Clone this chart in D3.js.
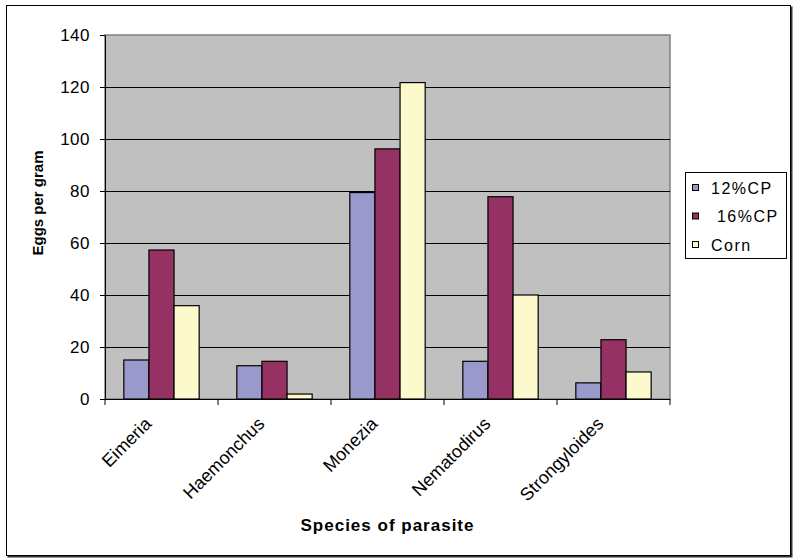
<!DOCTYPE html>
<html>
<head>
<meta charset="utf-8">
<script src="https://cdn.jsdelivr.net/npm/d3@7"></script>
<style>
  body { margin: 0; background: #fff; }
  text { font-family: Arial, "Liberation Sans", sans-serif; fill: #000; }
</style>
</head>
<body>
<div id="chart-div"></div>
<script>
// data
const species = ["Eimeria", "Haemonchus", "Monezia", "Nematodirus", "Strongyloides"];
const seriesNames = ["12%CP", "16%CP", "Corn"];
const cp12 = [15, 12.8, 79.4, 14.5, 6.2];
const cp16 = [57.3, 14.5, 96.2, 77.8, 22.8];
const corn = [35.9, 1.9, 121.7, 40, 10.4];
const yTicks = [0, 20, 40, 60, 80, 100, 120, 140];

const CHART_WIDTH = 796;
const CHART_HEIGHT = 558;
const PLOT = { left: 105, right: 670, top: 35, bottom: 399 };
const COLORS = ["#9999cc", "#963163", "#fcf9cc"];

var svg, xScale, xInner, yScale;

setup();

function setup() {
  svg = d3.select("#chart-div")
    .append("svg")
    .attr("width", CHART_WIDTH)
    .attr("height", CHART_HEIGHT);

  // outer frame (with a small shadow on right/bottom)
  svg.append("rect")
    .attr("x", 7.5).attr("y", 6.5)
    .attr("width", 785).attr("height", 551)
    .attr("fill", "#333");
  svg.append("rect")
    .attr("x", 6.5).attr("y", 5.5)
    .attr("width", 784).attr("height", 550)
    .attr("fill", "#fff")
    .attr("stroke", "#000")
    .attr("stroke-width", 1);

  xScale = d3.scaleBand()
    .domain(species)
    .range([PLOT.left, PLOT.right])
    .padding(0);

  xInner = d3.scaleBand()
    .domain(seriesNames)
    .range([0, xScale.bandwidth()])
    .paddingInner(0)
    .paddingOuter(0.75);

  yScale = d3.scaleLinear()
    .domain([0, 140])
    .range([PLOT.bottom, PLOT.top]);

  drawPlot();
  drawLegend();
}

function drawPlot() {
  // plot background
  svg.append("rect")
    .attr("x", PLOT.left).attr("y", PLOT.top)
    .attr("width", PLOT.right - PLOT.left)
    .attr("height", PLOT.bottom - PLOT.top)
    .attr("fill", "#c0c0c0")
    .attr("stroke", "#808080")
    .attr("stroke-width", 1.5);

  // gridlines
  svg.append("g")
    .selectAll("line")
    .data(yTicks.filter(d => d > 0 && d < 140))
    .enter()
    .append("line")
    .attr("x1", PLOT.left).attr("x2", PLOT.right)
    .attr("y1", d => Math.round(yScale(d)) + 0.5)
    .attr("y2", d => Math.round(yScale(d)) + 0.5)
    .attr("stroke", "#000")
    .attr("stroke-width", 1);

  // bars
  const rows = species.map((s, i) => ({ name: s, values: [cp12[i], cp16[i], corn[i]] }));
  svg.append("g")
    .selectAll("g")
    .data(rows)
    .enter()
    .append("g")
    .attr("transform", d => "translate(" + xScale(d.name) + ",0)")
    .selectAll("rect")
    .data(d => d.values.map((v, k) => ({ series: seriesNames[k], value: v, k: k })))
    .enter()
    .append("rect")
    .attr("x", d => xInner(d.series))
    .attr("y", d => yScale(d.value))
    .attr("width", xInner.bandwidth())
    .attr("height", d => yScale(0) - yScale(d.value))
    .attr("fill", d => COLORS[d.k])
    .attr("stroke", "#000")
    .attr("stroke-width", 1.2);

  // y axis
  const gY = svg.append("g")
    .attr("transform", "translate(" + PLOT.left + ",0)")
    .call(d3.axisLeft(yScale).tickValues(yTicks).tickSize(5).tickPadding(10).tickSizeOuter(0));
  gY.select(".domain").attr("stroke", "#000");
  gY.selectAll("text")
    .style("font-size", "17px")
    .style("letter-spacing", "0.5px")
    .attr("font-family", null);

  // x axis: ticks at category boundaries
  const gX = svg.append("g");
  gX.append("line")
    .attr("x1", PLOT.left).attr("x2", PLOT.right)
    .attr("y1", PLOT.bottom + 0.5).attr("y2", PLOT.bottom + 0.5)
    .attr("stroke", "#000");
  const bounds = species.map(s => xScale(s)).concat([PLOT.right]);
  gX.selectAll(".tick")
    .data(bounds)
    .enter()
    .append("line")
    .attr("x1", d => d).attr("x2", d => d)
    .attr("y1", PLOT.bottom).attr("y2", PLOT.bottom + 6)
    .attr("stroke", "#000");
  gX.selectAll(".lbl")
    .data(species)
    .enter()
    .append("text")
    .attr("transform", d => "translate(" + (xScale(d) + xScale.bandwidth() / 2 - 9) + "," + 425 + ") rotate(-45)")
    .attr("text-anchor", "end")
    .style("font-size", "18px")
    .text(d => d);

  // axis titles
  svg.append("text")
    .attr("x", (PLOT.left + PLOT.right) / 2)
    .attr("y", 531)
    .attr("text-anchor", "middle")
    .style("font-size", "17px")
    .style("font-weight", "bold")
    .style("letter-spacing", "1px")
    .text("Species of parasite");

  svg.append("text")
    .attr("transform", "translate(43,203) rotate(-90)")
    .attr("text-anchor", "middle")
    .style("font-size", "15px")
    .style("font-weight", "bold")
    .text("Eggs per gram");
}

function drawLegend() {
  const lg = svg.append("g");
  lg.append("rect")
    .attr("x", 685.5).attr("y", 172.5)
    .attr("width", 101).attr("height", 86)
    .attr("fill", "#fff")
    .attr("stroke", "#000");

  const labels = ["12%CP", " 16%CP", "Corn"];
  const rowY = [188, 216.5, 245];
  const items = lg.selectAll("g.item")
    .data(seriesNames)
    .enter()
    .append("g")
    .attr("transform", (d, i) => "translate(692," + rowY[i] + ")");
  items.append("rect")
    .attr("x", 0.5).attr("y", -3.5)
    .attr("width", 6).attr("height", 6)
    .attr("fill", (d, i) => COLORS[i])
    .attr("stroke", "#000");
  items.append("text")
    .attr("x", 19)
    .attr("dy", "0.36em")
    .style("font-size", "16px")
    .style("letter-spacing", "1.5px")
    .style("white-space", "pre")
    .attr("xml:space", "preserve")
    .text((d, i) => labels[i]);
}
</script>
</body>
</html>
